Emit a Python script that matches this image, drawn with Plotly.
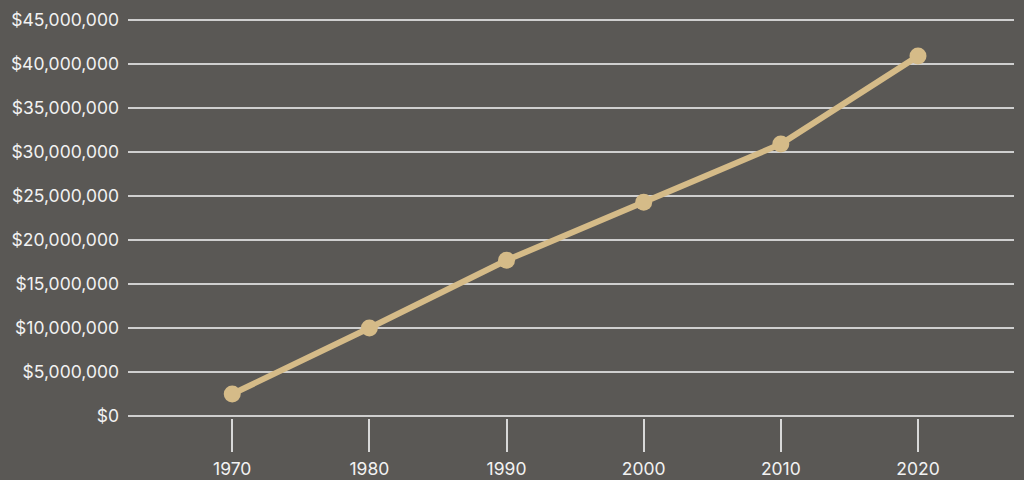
import plotly.graph_objects as go

years = [1970, 1980, 1990, 2000, 2010, 2020]
values = [2500000, 10000000, 17700000, 24300000, 30900000, 40900000]
y_ticks = [0, 5000000, 10000000, 15000000, 20000000, 25000000, 30000000, 35000000, 40000000, 45000000]
y_labels = ["$0", "$5,000,000", "$10,000,000", "$15,000,000", "$20,000,000",
            "$25,000,000", "$30,000,000", "$35,000,000", "$40,000,000", "$45,000,000"]

fig = go.Figure()
fig.add_trace(go.Scatter(
    x=years, y=values, mode="lines+markers",
    line=dict(color="#d5bb88", width=6),
    marker=dict(color="#d5bb88", size=17),
    hoverinfo="x+y",
))

fig.update_layout(
    width=1024, height=480,
    margin=dict(l=128, r=10, t=18, b=62),
    paper_bgcolor="#5a5855",
    plot_bgcolor="#5a5855",
    showlegend=False,
    font=dict(family="Inter", color="#f2f2f2", size=17.5),
    xaxis=dict(
        range=[1962.4, 2027.0],
        tickvals=years,
        ticktext=[str(y) for y in years],
        showgrid=False, zeroline=False,
        showline=False, automargin=False,
        ticks="outside", ticklen=33, tickwidth=1.5, tickcolor="#d8d8d8",
        ticklabelstandoff=2,
        tickfont=dict(size=17.5, color="#f2f2f2"),
    ),
    yaxis=dict(
        range=[-230000, 45230000],
        tickvals=y_ticks, ticktext=y_labels,
        showgrid=True, gridcolor="#cfcfcf", gridwidth=1.5,
        zeroline=False, showline=False, automargin=False,
        ticks="", ticklabelstandoff=8,
        tickfont=dict(size=17.5, color="#f2f2f2"),
    ),
)

fig.write_html("out.html")
